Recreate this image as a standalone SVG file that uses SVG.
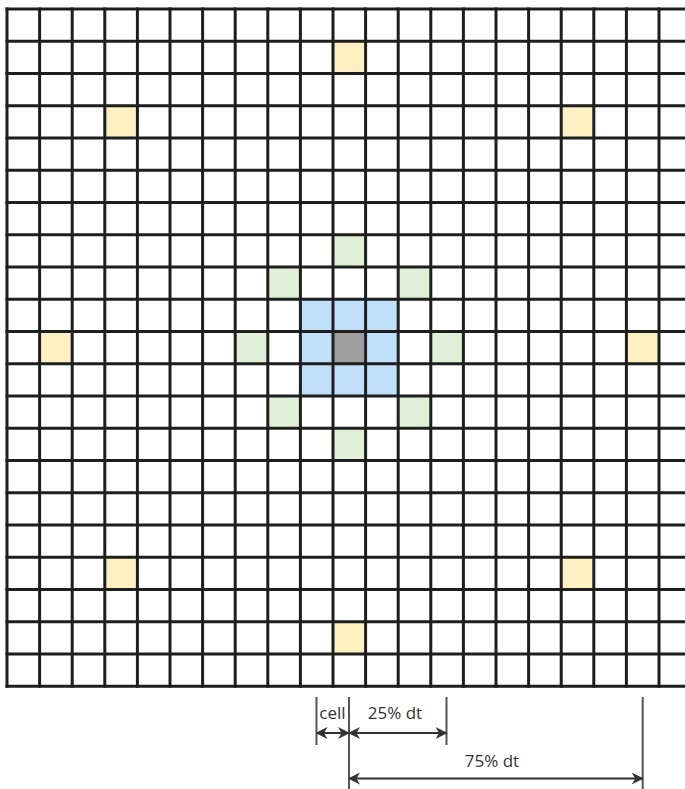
<svg xmlns="http://www.w3.org/2000/svg" width="685" height="789" viewBox="0 0 685 789">
  <style>
    .grid { fill: none; stroke: #1e1e1e; stroke-width: 3; }
    .y { fill: #fff0c2; }
    .g { fill: #dff0d6; }
    .b { fill: #c0e0fa; }
    .k { fill: #9e9e9e; }
    .ext { stroke: #555; stroke-width: 2; fill: none; }
    .dim { stroke: #333; stroke-width: 2; fill: none; marker-start: url(#ah); marker-end: url(#ah); }
    .lbl { font-family: "Open Sans", "Noto Sans", "DejaVu Sans", sans-serif; font-size: 17px; fill: #333; text-anchor: middle; }
  </style>
  <defs>
    <marker id="ah" viewBox="0 0 12 12" refX="11" refY="6" markerWidth="12" markerHeight="12" markerUnits="userSpaceOnUse" orient="auto-start-reverse">
      <path d="M0,0 L12,6 L0,12 L3.5,6 z" fill="#333"/>
    </marker>
  </defs>
  <rect x="0" y="0" width="685" height="789" fill="#fff"/>
  <g id="cells">
    <rect class="y" x="333" y="41.25" width="32.6" height="32.25"/>
    <rect class="y" x="104.8" y="105.75" width="32.6" height="32.25"/>
    <rect class="y" x="561.2" y="105.75" width="32.6" height="32.25"/>
    <rect class="y" x="39.6" y="331.5" width="32.6" height="32.25"/>
    <rect class="y" x="626.4" y="331.5" width="32.6" height="32.25"/>
    <rect class="y" x="104.8" y="557.25" width="32.6" height="32.25"/>
    <rect class="y" x="561.2" y="557.25" width="32.6" height="32.25"/>
    <rect class="y" x="333" y="621.75" width="32.6" height="32.25"/>
    <rect class="g" x="333" y="234.75" width="32.6" height="32.25"/>
    <rect class="g" x="267.8" y="267" width="32.6" height="32.25"/>
    <rect class="g" x="398.2" y="267" width="32.6" height="32.25"/>
    <rect class="g" x="235.2" y="331.5" width="32.6" height="32.25"/>
    <rect class="g" x="430.8" y="331.5" width="32.6" height="32.25"/>
    <rect class="g" x="267.8" y="396" width="32.6" height="32.25"/>
    <rect class="g" x="398.2" y="396" width="32.6" height="32.25"/>
    <rect class="g" x="333" y="428.25" width="32.6" height="32.25"/>
    <rect class="b" x="300.4" y="299.25" width="97.8" height="96.75"/>
    <rect class="k" x="333" y="331.5" width="32.6" height="32.25"/>
  </g>
  <g id="grid">
    <path class="grid" d="M5.5 9H685 M5.5 41.25H685 M5.5 73.5H685 M5.5 105.75H685 M5.5 138H685 M5.5 170.25H685 M5.5 202.5H685 M5.5 234.75H685 M5.5 267H685 M5.5 299.25H685 M5.5 331.5H685 M5.5 363.75H685 M5.5 396H685 M5.5 428.25H685 M5.5 460.5H685 M5.5 492.75H685 M5.5 525H685 M5.5 557.25H685 M5.5 589.5H685 M5.5 621.75H685 M5.5 654H685 M5.5 686.25H685"/>
    <path class="grid" d="M7 7.5V687.75 M39.6 7.5V687.75 M72.2 7.5V687.75 M104.8 7.5V687.75 M137.4 7.5V687.75 M170 7.5V687.75 M202.6 7.5V687.75 M235.2 7.5V687.75 M267.8 7.5V687.75 M300.4 7.5V687.75 M333 7.5V687.75 M365.6 7.5V687.75 M398.2 7.5V687.75 M430.8 7.5V687.75 M463.4 7.5V687.75 M496 7.5V687.75 M528.6 7.5V687.75 M561.2 7.5V687.75 M593.8 7.5V687.75 M626.4 7.5V687.75 M659 7.5V687.75"/>
  </g>
  <g id="connectors">
    <path class="ext" d="M316.5 697V745 M349 697V789 M446.5 697V745 M642.7 697V789"/>
    <line class="dim" x1="316.5" y1="733" x2="349" y2="733"/>
    <line class="dim" x1="349" y1="733" x2="446.5" y2="733"/>
    <line class="dim" x1="349" y1="778.5" x2="642.7" y2="778.5"/>
  </g>
  <g id="labels">
    <text class="lbl" x="332.5" y="719">cell</text>
    <text class="lbl" x="395" y="719">25% dt</text>
    <text class="lbl" x="492" y="767">75% dt</text>
  </g>
</svg>
